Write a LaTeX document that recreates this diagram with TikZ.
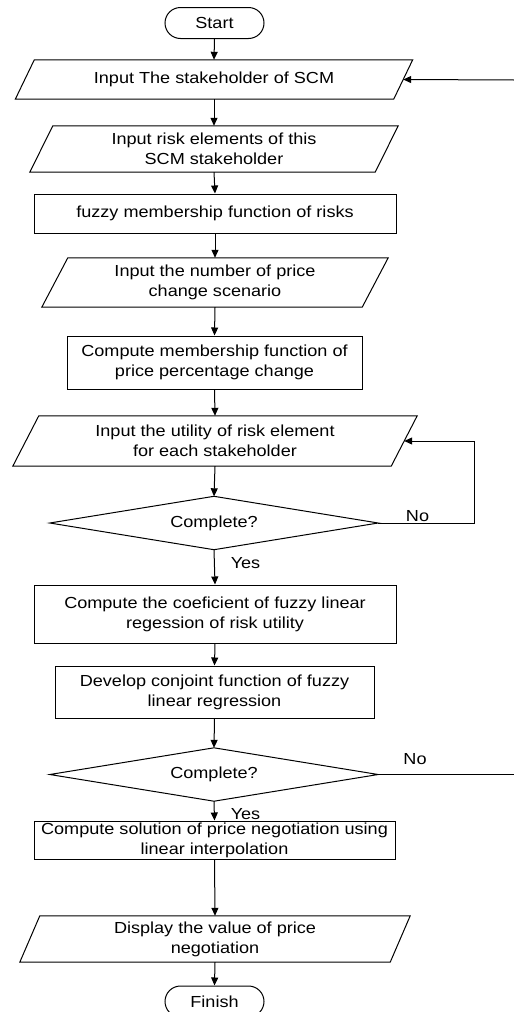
\documentclass[tikz,border=0pt]{standalone}
\usepackage{fontspec}
\setmainfont{Liberation Sans}[FakeStretch=1.13]
\usetikzlibrary{arrows.meta,shapes.misc}
\begin{document}
\begin{tikzpicture}[x=1pt,y=-1pt,
  every node/.style={font=\fontsize{16}{20}\selectfont, inner sep=0pt, align=center},
  line/.style={line width=1pt, black},
  arr/.style={line, -{Triangle[length=8pt,width=7pt]}},
  term/.style={draw, line width=1pt, rounded rectangle, minimum width=99pt, minimum height=31pt},
  proc/.style={draw, line width=1pt},
  io/.style={},
  dec/.style={},
  lbl/.style={}]
\path[use as bounding box, clip] (0,0) rectangle (514,1012);

% nodes
\node[term] (start) at (214.5,23) {Start};
\node[io, minimum width=378pt, minimum height=39pt] (in1) at (214,79.5) {Input The stakeholder of SCM};
\node[io, minimum width=345pt, minimum height=46pt] (in2) at (214,149) {Input risk elements of this\\SCM stakeholder};
\node[proc, minimum width=362pt, minimum height=39pt] (r1) at (215,213.5) {fuzzy membership function of risks};
\node[io, minimum width=320pt, minimum height=49pt] (in3) at (215,282.5) {Input the number of price\\change scenario};
\node[proc, minimum width=295pt, minimum height=53pt] (r2) at (214.5,362.5) {Compute membership function of\\price percentage change};
\node[io, minimum width=378pt, minimum height=50pt] (in4) at (215,441) {Input the utility of risk element\\for each stakeholder};
\node[dec, minimum width=328pt, minimum height=53pt] (d1) at (214,523) {Complete?};
\node[proc, minimum width=362pt, minimum height=58pt] (r3) at (215,614) {Compute the coeficient of fuzzy linear\\regession of risk utility};
\node[proc, minimum width=319pt, minimum height=52pt] (r4) at (214.5,692) {Develop conjoint function of fuzzy\\linear regression};
\node[dec, minimum width=328pt, minimum height=53pt] (d2) at (214,774.5) {Complete?};
\node[proc, minimum width=361pt, minimum height=38pt] (r5) at (214.5,840) {Compute solution of price negotiation using\\linear interpolation};
\node[io, minimum width=370pt, minimum height=46pt] (in5) at (215,939) {Display the value of price\\negotiation};
\node[term] (fin) at (214.5,1001.5) {Finish};

% parallelogram outlines
\foreach \n/\s in {in1/9.5, in2/11.5, in3/13, in4/13, in5/10}{
  \draw[line] ([xshift=\s pt]\n.north west) -- ([xshift=\s pt]\n.north east)
    -- ([xshift=-\s pt]\n.south east) -- ([xshift=-\s pt]\n.south west) -- cycle;
}
% diamond outlines
\foreach \n in {d1,d2}{
  \draw[line] (\n.north) -- (\n.east) -- (\n.south) -- (\n.west) -- cycle;
}

% main flow
\draw[arr] (start.south) -- (in1.north);
\draw[arr] (in1.south) -- (in2.north);
\draw[arr] (in2.south) -- (r1.north);
\draw[arr] (r1.south) -- (in3.north);
\draw[arr] (in3.south) -- (r2.north);
\draw[arr] (r2.south) -- (in4.north);
\draw[arr] (in4.south) -- (d1.north);
\draw[arr] (d1.south) -- (r3.north);
\draw[arr] (r3.south) -- (r4.north);
\draw[arr] (r4.south) -- (d2.north);
\draw[arr] (d2.south) -- (r5.north);
\draw[arr] (r5.south) -- (in5.north);
\draw[arr] (in5.south) -- (fin.north);

% loops
\coordinate (l1) at (474,523);
\draw[arr] (d1.east) -- (l1) |- (in4.east);
\coordinate (l2) at (514,774.5);
\draw[line] (d2.east) -- (l2);
\coordinate (l3) at (514,80);
\draw[arr] (l3) -- (in1.east);

% labels
\node[lbl] (no1) at (417.5,516) {No};
\node[lbl] (yes1) at (245.5,563) {Yes};
\node[lbl] (no2) at (415,759) {No};
\node[lbl] (yes2) at (245.5,814) {Yes};
\end{tikzpicture}
\end{document}
